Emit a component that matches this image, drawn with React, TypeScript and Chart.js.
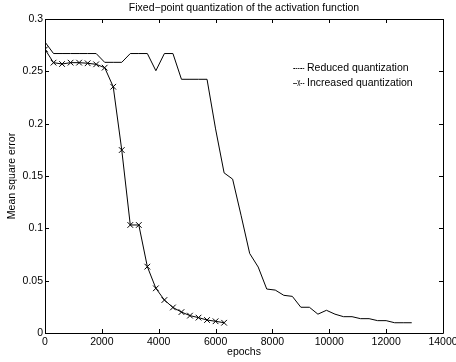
import React, { useEffect, useRef } from "react";
import { Chart, registerables } from "chart.js";

Chart.register(...registerables);

const titleText = "Fixed−point quantization of the activation function";
const xAxisLabel = "epochs";
const yAxisLabel = "Mean square error";
const reducedLabel = "Reduced quantization";
const increasedLabel = "Increased quantization";
const reducedPrefix = "-----";
const increasedPrefix = "--x--";

const reducedEpochs = [
  0, 300, 600, 900, 1200, 1500, 1800, 2100, 2400, 2700, 3000, 3300, 3600, 3900, 4200,
  4500, 4800, 5100, 5400, 5700, 6000, 6300, 6600, 6900, 7200, 7500, 7800, 8100, 8400,
  8700, 9000, 9300, 9600, 9900, 10200, 10500, 10800, 11100, 11400, 11700, 12000, 12300,
  12600, 12900,
];
const reducedMse = [
  0.278, 0.267, 0.267, 0.267, 0.267, 0.267, 0.267, 0.2586, 0.2586, 0.2586, 0.267, 0.267,
  0.267, 0.2506, 0.267, 0.267, 0.2424, 0.2424, 0.2424, 0.2424, 0.195, 0.153, 0.147, 0.112,
  0.076, 0.063, 0.042, 0.041, 0.036, 0.035, 0.0246, 0.0246, 0.018, 0.0217, 0.018, 0.0156,
  0.0156, 0.0137, 0.0137, 0.0118, 0.0118, 0.0098, 0.0098, 0.0098,
];

const increasedEpochs = [
  0, 300, 600, 900, 1200, 1500, 1800, 2100, 2400, 2700, 3000, 3300, 3600, 3900, 4200,
  4500, 4800, 5100, 5400, 5700, 6000, 6300,
];
const increasedMse = [
  0.271, 0.2583, 0.257, 0.2583, 0.2583, 0.2577, 0.2567, 0.2535, 0.2353, 0.1748, 0.1032,
  0.1032, 0.0634, 0.0427, 0.0315, 0.0244, 0.02, 0.0166, 0.0147, 0.0124, 0.0112, 0.0098,
];

const xTicks = [0, 2000, 4000, 6000, 8000, 10000, 12000, 14000];
const yTicks = [0, 0.05, 0.1, 0.15, 0.2, 0.25, 0.3];

const FONT = "'Liberation Sans', Arial, Helvetica, sans-serif";
const FS = 10.5;

const framePlugin = {
  id: "matlabFrame",
  afterDraw(chart: any) {
    const { ctx, chartArea, scales } = chart;
    const { left, right, top, bottom } = chartArea;
    ctx.save();
    ctx.strokeStyle = "#000";
    ctx.lineWidth = 1;
    ctx.beginPath();
    ctx.rect(Math.round(left) + 0.5, Math.round(top) + 0.5, Math.round(right - left), Math.round(bottom - top));
    ctx.stroke();
    const tl = 4;
    ctx.beginPath();
    for (const v of xTicks) {
      const x = Math.round(scales.x.getPixelForValue(v)) + 0.5;
      ctx.moveTo(x, bottom);
      ctx.lineTo(x, bottom - tl);
      ctx.moveTo(x, top);
      ctx.lineTo(x, top + tl);
    }
    for (const v of yTicks) {
      const y = Math.round(scales.y.getPixelForValue(v)) + 0.5;
      ctx.moveTo(left, y);
      ctx.lineTo(left + tl, y);
      ctx.moveTo(right, y);
      ctx.lineTo(right - tl, y);
    }
    ctx.stroke();

    // title
    ctx.fillStyle = "#000";
    ctx.font = `${FS}px ${FONT}`;
    ctx.textAlign = "center";
    ctx.textBaseline = "middle";
    ctx.fillText(titleText, (left + right) / 2, 8);

    // legend
    const lx = 293;
    const tx = 307;
    const prefixWidth = 11.5;
    const rows = [
      { p: reducedPrefix, t: reducedLabel, y: 68 },
      { p: increasedPrefix, t: increasedLabel, y: 83 },
    ];
    ctx.textAlign = "left";
    for (const r of rows) {
      ctx.font = `${FS}px ${FONT}`;
      const w = ctx.measureText(r.p).width;
      ctx.save();
      ctx.translate(lx, r.y);
      ctx.scale(prefixWidth / w, 1);
      ctx.fillText(r.p, 0, 0);
      ctx.restore();
      ctx.fillText(r.t, tx, r.y);
    }
    ctx.restore();
  },
};

export default function App() {
  const ref = useRef<HTMLCanvasElement | null>(null);
  useEffect(() => {
    if (!ref.current) return;
    const chart = new Chart(ref.current, {
      type: "line",
      data: {
        datasets: [
          {
            label: reducedLabel,
            data: reducedEpochs.map((x, i) => ({ x, y: reducedMse[i] })),
            borderColor: "#000",
            borderWidth: 1,
            pointRadius: 0,
            fill: false,
            tension: 0,
          },
          {
            label: increasedLabel,
            data: increasedEpochs.map((x, i) => ({ x, y: increasedMse[i] })),
            borderColor: "#000",
            borderWidth: 1,
            pointStyle: "crossRot",
            pointRadius: 4,
            pointBorderColor: "#000",
            pointBorderWidth: 1,
            fill: false,
            tension: 0,
          },
        ],
      },
      options: {
        animation: false,
        responsive: false,
        devicePixelRatio: 1,
        layout: { padding: { top: 19, right: 13, left: 0, bottom: 0 } },
        plugins: {
          legend: { display: false },
          title: { display: false },
          tooltip: { enabled: false },
        },
        scales: {
          x: {
            type: "linear",
            min: 0,
            max: 14000,
            grid: { display: false, drawTicks: false },
            border: { display: false },
            ticks: {
              stepSize: 2000,
              padding: 3,
              maxRotation: 0,
              color: "#000",
              font: { family: FONT, size: FS },
              callback: (v: any) => String(v),
            },
            title: {
              display: true,
              text: xAxisLabel,
              color: "#000",
              font: { family: FONT, size: FS },
              padding: { top: 0, bottom: 4 },
            },
            afterFit: (s: any) => {
              s.height = 29;
              s.paddingLeft = 0;
              s.paddingRight = 0;
            },
          },
          y: {
            type: "linear",
            min: 0,
            max: 0.3,
            grid: { display: false, drawTicks: false },
            border: { display: false },
            ticks: {
              stepSize: 0.05,
              padding: 2,
              color: "#000",
              font: { family: FONT, size: FS },
              callback: (v: any) => String(Number(Number(v).toFixed(2))),
            },
            title: {
              display: true,
              text: yAxisLabel,
              color: "#000",
              font: { family: FONT, size: FS },
              padding: { top: 6, bottom: 0 },
            },
            afterFit: (s: any) => {
              s.width = 45;
              s.paddingTop = 0;
              s.paddingBottom = 0;
            },
          },
        },
      },
      plugins: [framePlugin],
    });
    return () => chart.destroy();
  }, []);
  return (
    <div style={{ position: "fixed", left: 0, top: 0, width: 456, height: 362, background: "#fff" }}>
      <canvas ref={ref} width={456} height={362} style={{ width: 456, height: 362, display: "block" }} />
    </div>
  );
}
